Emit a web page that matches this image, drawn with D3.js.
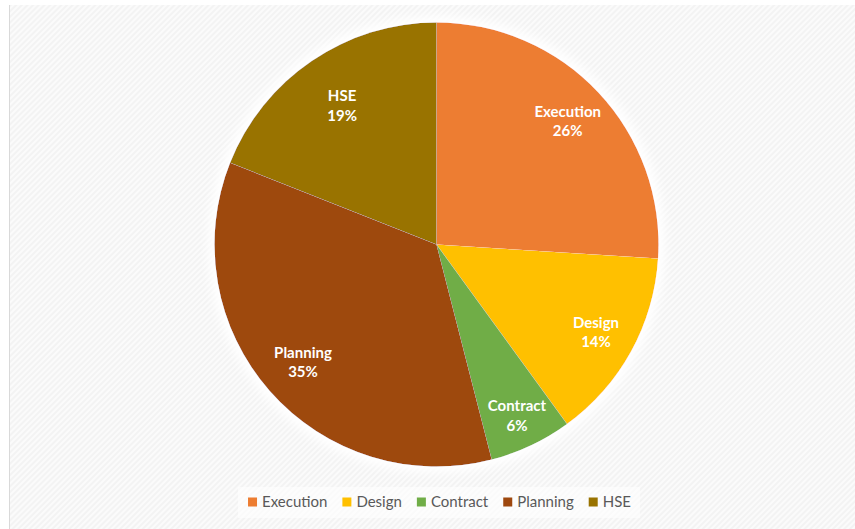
<!DOCTYPE html>
<html>
<head>
<meta charset="utf-8">
<script src="https://cdn.jsdelivr.net/npm/d3@7/dist/d3.min.js"></script>
<style>
  html, body { margin: 0; padding: 0; background: #ffffff; }
  svg { display: block; }
</style>
</head>
<body>
<svg id="chart" width="855" height="529"></svg>
<script>
// Share of items by discipline
const categories = ["Execution", "Design", "Contract", "Planning", "HSE"];
const shares = [26, 14, 6, 35, 19];
const colors = ["#ED7D31", "#FFC000", "#70AD47", "#9E480E", "#997300"];

const W = 855, H = 529;
const cx = 436.5, cy = 244.5, R = 222;
// distance of each data label from the centre (best-fit placement)
const labelRadius = { Execution: 180, Design: 182, Contract: 189, Planning: 178, HSE: 168 };
const font = "Lato, 'Open Sans', sans-serif";

const svg = d3.select("#chart");
const defs = svg.append("defs");

// faint diagonal weave in the chart area
const pat = defs.append("pattern")
  .attr("id", "weave")
  .attr("width", 4).attr("height", 4)
  .attr("patternUnits", "userSpaceOnUse")
  .attr("patternTransform", "rotate(-45)");
pat.append("rect").attr("width", 4).attr("height", 4).attr("fill", "#f3f3f3");
pat.append("rect").attr("width", 4).attr("height", 2).attr("fill", "#fbfbfb");

// soft white halo behind the pie
const glow = defs.append("filter").attr("id", "halo")
  .attr("x", "-20%").attr("y", "-20%").attr("width", "140%").attr("height", "140%");
glow.append("feMorphology").attr("in", "SourceAlpha").attr("operator", "dilate").attr("radius", 3).attr("result", "d");
glow.append("feGaussianBlur").attr("in", "d").attr("stdDeviation", 6).attr("result", "b");
glow.append("feFlood").attr("flood-color", "#ffffff").attr("result", "w");
glow.append("feComposite").attr("in", "w").attr("in2", "b").attr("operator", "in").attr("result", "g");
const fm = glow.append("feMerge");
fm.append("feMergeNode").attr("in", "g");
fm.append("feMergeNode").attr("in", "g");
fm.append("feMergeNode").attr("in", "SourceGraphic");

// chart area
svg.append("rect").attr("x", 9.5).attr("y", 5).attr("width", W - 9.5).attr("height", H - 5)
  .attr("fill", "url(#weave)");
svg.append("line").attr("x1", 9.5).attr("x2", 9.5).attr("y1", 5).attr("y2", H)
  .attr("stroke", "#d9d9d9").attr("stroke-width", 1);

// pie
const data = categories.map((c, i) => ({ name: c, value: shares[i], color: colors[i] }));
const pie = d3.pie().value(d => d.value).sort(null);
const arcs = pie(data);
const arc = d3.arc().innerRadius(0).outerRadius(R);
const labelPos = d => {
  const r = labelRadius[d.data.name];
  return d3.arc().innerRadius(r).outerRadius(r).centroid(d);
};

const g = svg.append("g").attr("transform", `translate(${cx},${cy})`);
g.append("g").attr("filter", "url(#halo)")
  .selectAll("path").data(arcs).join("path")
  .attr("d", arc)
  .attr("fill", d => d.data.color);

const labels = g.append("g").selectAll("text").data(arcs).join("text")
  .attr("transform", d => `translate(${labelPos(d)})`)
  .attr("text-anchor", "middle")
  .attr("font-family", font)
  .attr("font-weight", "bold")
  .attr("font-size", 15)
  .attr("fill", "#ffffff");
labels.append("tspan").attr("x", 0).attr("y", -4.5).text(d => d.data.name);
labels.append("tspan").attr("x", 0).attr("y", 15).text(d => d.value + "%");

// legend
const lg = svg.append("g");
lg.append("rect").attr("x", 238).attr("y", 487).attr("width", 402).attr("height", 31)
  .attr("fill", "#ffffff").attr("opacity", 0.6);
const items = lg.append("g");
const sq = 9, gapText = 5, gapItem = 15;
let x = 0;
data.forEach(d => {
  const it = items.append("g").attr("transform", `translate(${x},0)`);
  it.append("rect").attr("x", 0).attr("y", -sq / 2).attr("width", sq).attr("height", sq).attr("fill", d.color);
  const t = it.append("text").attr("x", sq + gapText).attr("y", 0).attr("dy", "0.35em")
    .attr("font-family", font).attr("font-size", 15).attr("fill", "#595959").text(d.name);
  x += sq + gapText + t.node().getComputedTextLength() + gapItem;
});
const total = x - gapItem;
items.attr("transform", `translate(${cx + 3 - total / 2},502)`);
</script>
</body>
</html>
